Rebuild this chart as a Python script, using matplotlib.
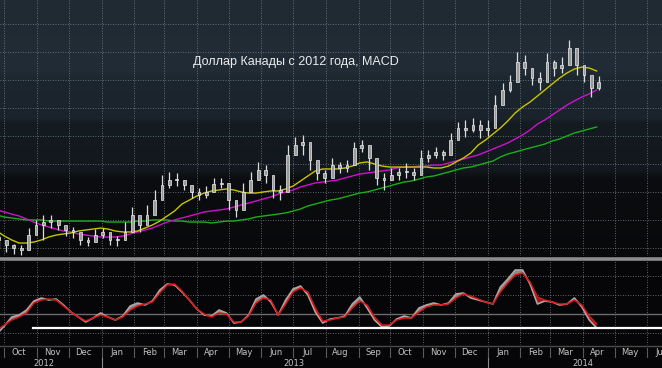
import numpy as np
import pandas as pd
import matplotlib
matplotlib.use("Agg")
import matplotlib.pyplot as plt
import matplotlib.dates as mdates
from matplotlib.patches import Rectangle

# weekly bars, USD/CAD
weeks = pd.date_range("2012-09-24", "2014-04-14", freq="W-MON")

close = [0.9857, 0.9821, 0.9800, 0.9785, 0.9893, 0.9964, 0.9985, 1.0000, 0.9964, 0.9928,
         0.9914, 0.9857, 0.9843, 0.9893, 0.9914, 0.9857, 0.9857, 0.9914, 1.0035, 0.9964,
         1.0035, 1.0143, 1.0250, 1.0286, 1.0286, 1.0250, 1.0200, 1.0178, 1.0200, 1.0257,
         1.0264, 1.0143, 1.0071, 1.0200, 1.0286, 1.0357, 1.0321, 1.0214, 1.0200, 1.0464,
         1.0536, 1.0557, 1.0429, 1.0336, 1.0300, 1.0393, 1.0371, 1.0393, 1.0514, 1.0536,
         1.0443, 1.0300, 1.0286, 1.0321, 1.0343, 1.0343, 1.0321, 1.0443, 1.0464, 1.0486,
         1.0464, 1.0571, 1.0657, 1.0643, 1.0679, 1.0643, 1.0657, 1.0821, 1.0928, 1.0986,
         1.1128, 1.1086, 1.1014, 1.0986, 1.1128, 1.1086, 1.1107, 1.1228, 1.1107, 1.1036,
         1.0943, 1.0986]
high = [0.9893, 0.9857, 0.9828, 0.9821, 0.9943, 1.0000, 1.0035, 1.0035, 1.0000, 0.9957,
        0.9950, 0.9893, 0.9878, 0.9936, 0.9943, 0.9893, 0.9886, 0.9985, 1.0093, 1.0014,
        1.0107, 1.0214, 1.0321, 1.0343, 1.0336, 1.0286, 1.0243, 1.0228, 1.0243, 1.0300,
        1.0300, 1.0200, 1.0121, 1.0264, 1.0343, 1.0414, 1.0393, 1.0264, 1.0250, 1.0536,
        1.0593, 1.0607, 1.0500, 1.0378, 1.0357, 1.0443, 1.0414, 1.0429, 1.0557, 1.0571,
        1.0500, 1.0357, 1.0336, 1.0371, 1.0371, 1.0407, 1.0371, 1.0500, 1.0500, 1.0521,
        1.0500, 1.0621, 1.0700, 1.0714, 1.0729, 1.0714, 1.0714, 1.0893, 1.0978, 1.1036,
        1.1200, 1.1178, 1.1086, 1.1057, 1.1193, 1.1143, 1.1164, 1.1285, 1.1200, 1.1086,
        1.1014, 1.1028]
low = [0.9800, 0.9771, 0.9757, 0.9750, 0.9821, 0.9907, 0.9857, 0.9943, 0.9928, 0.9885,
       0.9871, 0.9821, 0.9814, 0.9850, 0.9871, 0.9821, 0.9814, 0.9857, 0.9964, 0.9914,
       0.9985, 1.0057, 1.0178, 1.0228, 1.0243, 1.0214, 1.0157, 1.0143, 1.0157, 1.0214,
       1.0228, 1.0071, 1.0021, 1.0143, 1.0214, 1.0286, 1.0264, 1.0157, 1.0143, 1.0393,
       1.0464, 1.0464, 1.0357, 1.0286, 1.0264, 1.0343, 1.0336, 1.0343, 1.0464, 1.0486,
       1.0357, 1.0250, 1.0214, 1.0286, 1.0286, 1.0300, 1.0286, 1.0393, 1.0414, 1.0443,
       1.0429, 1.0500, 1.0586, 1.0593, 1.0629, 1.0586, 1.0600, 1.0679, 1.0857, 1.0914,
       1.1057, 1.1036, 1.0964, 1.0928, 1.1071, 1.1028, 1.1050, 1.1143, 1.1036, 1.0986,
       1.0878, 1.0928]
first_open = 0.9880

ma_50 = [0.9921, 0.9885, 0.9857, 0.9835, 0.9835, 0.9842, 0.9857, 0.9878, 0.9892, 0.9900,
         0.9907, 0.9921, 0.9928, 0.9935, 0.9942, 0.9935, 0.9921, 0.9914, 0.9914, 0.9921,
         0.9942, 0.9964, 0.9992, 1.0028, 1.0064, 1.0114, 1.0142, 1.0171, 1.0192, 1.0207,
         1.0214, 1.0221, 1.0214, 1.0200, 1.0192, 1.0192, 1.0200, 1.0207, 1.0207, 1.0221,
         1.0242, 1.0278, 1.0314, 1.0350, 1.0364, 1.0364, 1.0364, 1.0371, 1.0385, 1.0407,
         1.0414, 1.0400, 1.0385, 1.0378, 1.0378, 1.0378, 1.0378, 1.0378, 1.0378, 1.0371,
         1.0371, 1.0385, 1.0414, 1.0442, 1.0478, 1.0535, 1.0571, 1.0614, 1.0657, 1.0707,
         1.0764, 1.0807, 1.0842, 1.0885, 1.0928, 1.0971, 1.1014, 1.1050, 1.1078, 1.1092,
         1.1085, 1.1064]
ma_100 = [1.0071, 1.0057, 1.0042, 1.0028, 1.0007, 0.9985, 0.9964, 0.9950, 0.9935, 0.9921,
          0.9914, 0.9900, 0.9892, 0.9885, 0.9878, 0.9878, 0.9878, 0.9885, 0.9900, 0.9914,
          0.9928, 0.9942, 0.9964, 0.9985, 1.0000, 1.0014, 1.0028, 1.0042, 1.0057, 1.0064,
          1.0071, 1.0078, 1.0092, 1.0107, 1.0121, 1.0135, 1.0150, 1.0164, 1.0185, 1.0200,
          1.0214, 1.0235, 1.0250, 1.0264, 1.0271, 1.0278, 1.0285, 1.0300, 1.0314, 1.0328,
          1.0335, 1.0342, 1.0350, 1.0357, 1.0371, 1.0378, 1.0378, 1.0385, 1.0385, 1.0392,
          1.0392, 1.0407, 1.0421, 1.0435, 1.0450, 1.0464, 1.0485, 1.0507, 1.0528, 1.0550,
          1.0578, 1.0607, 1.0642, 1.0685, 1.0714, 1.0750, 1.0785, 1.0821, 1.0850, 1.0878,
          1.0900, 1.0928]
ma_200 = [1.0035, 1.0021, 1.0014, 1.0007, 1.0000, 1.0000, 1.0000, 0.9992, 0.9992, 0.9992,
          0.9992, 0.9992, 0.9992, 0.9992, 0.9992, 0.9985, 0.9985, 0.9985, 0.9985, 0.9992,
          0.9992, 1.0000, 1.0000, 1.0000, 0.9992, 0.9992, 0.9985, 0.9985, 0.9985, 0.9978,
          0.9985, 0.9992, 0.9992, 1.0000, 1.0007, 1.0021, 1.0028, 1.0035, 1.0042, 1.0050,
          1.0064, 1.0078, 1.0100, 1.0114, 1.0128, 1.0142, 1.0150, 1.0164, 1.0178, 1.0192,
          1.0200, 1.0214, 1.0228, 1.0242, 1.0257, 1.0271, 1.0278, 1.0292, 1.0307, 1.0314,
          1.0328, 1.0342, 1.0357, 1.0371, 1.0378, 1.0392, 1.0407, 1.0421, 1.0450, 1.0471,
          1.0485, 1.0500, 1.0514, 1.0528, 1.0542, 1.0564, 1.0578, 1.0600, 1.0621, 1.0635,
          1.0650, 1.0664]

# MACD panel, in 1e-4
macd_line = [-40, -24, -6, -2, 8, 26, 32, 28, 30, 18,
             4, -6, -16, -8, 2, -6, -12, -4, 16, 22,
             18, 26, 48, 60, 58, 44, 28, 10, -2, -4,
             8, 2, -18, -16, -2, 30, 38, 24, -2, 28,
             50, 56, 38, 4, -18, -10, -8, -4, 20, 34,
             12, -12, -26, -24, -10, -4, -8, 12, 18, 22,
             18, 22, 40, 42, 32, 28, 24, 20, 54, 70,
             88, 88, 60, 20, 26, 24, 18, 20, 32, 14,
             -12, -28]
signal_line = [-32, -22, -12, -6, 2, 22, 28, 30, 28, 16,
               4, -6, -14, -8, -2, -6, -12, -6, 8, 16,
               20, 24, 42, 58, 60, 46, 28, 10, 0, -6,
               2, 0, -16, -16, -4, 22, 32, 28, -2, 20,
               44, 52, 44, 12, -14, -12, -8, -6, 12, 26,
               18, -6, -22, -22, -12, -8, -8, 4, 14, 18,
               18, 20, 32, 40, 36, 30, 24, 20, 44, 62,
               78, 82, 64, 34, 28, 24, 20, 20, 28, 18,
               -4, -20]
macd_level = -28

month_names = ["Oct", "Nov", "Dec", "Jan", "Feb", "Mar", "Apr", "May", "Jun", "Jul", "Aug",
               "Sep", "Oct", "Nov", "Dec", "Jan", "Feb", "Mar", "Apr", "May", "Jun"]
year_names = ["2012", "2013", "2014"]
title = "Доллар Канады с 2012 года, MACD"

x_left = pd.Timestamp("2012-09-26 22:00")
x_right = pd.Timestamp("2014-06-14 19:00")
grid_kw = dict(color="#7a848c", lw=0.6, ls=(0, (1, 2)))

fig = plt.figure(figsize=(6.62, 3.68), dpi=100, facecolor="#060608")
ax = fig.add_axes([0, 1 - 256 / 368, 1, 256 / 368])
ax2 = fig.add_axes([0, 1 - 345 / 368, 1, 84 / 368])

# background bands of the price panel
stops_y = [0, 70, 80, 118, 122, 170, 178, 256]
stops_c = ["#1f2a33", "#212c36", "#1c262f", "#1a232b", "#141b21", "#12181d", "#0b0d10", "#08090b"]
rgb = np.array([matplotlib.colors.to_rgb(c) for c in stops_c])
rows = np.arange(256)
bg = np.stack([np.interp(rows, stops_y, rgb[:, i]) for i in range(3)], axis=1)[:, None, :]
ax.imshow(bg, aspect="auto", extent=[0, 1, 0, 1], transform=ax.transAxes, zorder=0)

ax.set_xlim(x_left, x_right)
ax.set_ylim(1.1571 - 256 / 1400, 1.1571)
ax2.set_xlim(x_left, x_right)
ax2.set_ylim(-62, 106)
ax2.set_facecolor("#060608")

month_starts = pd.date_range("2012-10-01", "2014-06-01", freq="MS")
for a in (ax, ax2):
    for m in month_starts:
        a.axvline(m, zorder=1, **grid_kw)
    a.set_xticks([])
    a.set_yticks([])
    for s in a.spines.values():
        s.set_visible(False)
for lvl in np.arange(0.98, 1.15, 0.02):
    ax.axhline(lvl, zorder=1, **grid_kw)
for lvl in (76, 38, -38):
    ax2.axhline(lvl, zorder=1, **grid_kw)
ax2.axhline(0, color="#6c6c6c", lw=1, zorder=2)

# candles
xs = mdates.date2num(weeks) + 2
opens = [first_open] + close[:-1]
for x, o, c, h, l in zip(xs, opens, close, high, low):
    ax.vlines(x, l, h, color="#dcdcdc", lw=0.9, zorder=4)
    ax.add_patch(Rectangle((x - 1.3, min(o, c)), 2.6, max(abs(c - o), 0.0004),
                           facecolor="#9a9a9a", edgecolor="#eeeeee", lw=0.5, zorder=5))

ax.plot(weeks, ma_200, color="#18b018", lw=1, zorder=3)
ax.plot(weeks, ma_100, color="#d010d0", lw=1, zorder=3)
ax.plot(weeks, ma_50, color="#c8c400", lw=1, zorder=3)

ax.text(0.447, 0.758, title, transform=ax.transAxes, ha="center", va="center",
        color="#ececec", fontsize=9, family="Liberation Sans")

# MACD
m = np.array(macd_line, float)
s = np.array(signal_line, float)
ax2.fill_between(weeks, m, s, where=m >= s, interpolate=True, color="#8a8a8a", lw=0, zorder=3)
ax2.fill_between(weeks, m, s, where=m < s, interpolate=True, color="#9a1a1a", lw=0, zorder=3)
ax2.plot(weeks, m, color="#a8a8a8", lw=1.2, zorder=4)
ax2.plot(weeks, s, color="#e01414", lw=1.1, zorder=5)
ax2.plot([pd.Timestamp("2012-10-28"), x_right], [macd_level, macd_level], color="white", lw=1.6, zorder=6)

# separator and bottom axis
fig.add_artist(plt.Line2D([0, 1], [1 - 258.5 / 368] * 2, transform=fig.transFigure,
                          color="#8c8c8c", lw=2.6))
fig.add_artist(plt.Line2D([0, 1], [1 - 345.5 / 368] * 2, transform=fig.transFigure,
                          color="#4a4a4a", lw=1))
tr = ax2.get_xaxis_transform()
for mstart in month_starts:
    ax2.plot([mstart, mstart], [-0.03, -0.14], transform=tr, color="#5a5a5a", lw=0.8, clip_on=False)
for ystart in pd.to_datetime(["2013-01-01", "2014-01-01"]):
    ax2.plot([ystart, ystart], [-0.16, -0.28], transform=tr, color="#8a8a8a", lw=0.8, clip_on=False)
for mstart, name in zip(month_starts, month_names):
    ax2.text(mstart + pd.Timedelta(days=14), -0.095, name, transform=tr, ha="center", va="center",
             color="#c4c4c4", fontsize=6, clip_on=False)
for d, name in zip(pd.to_datetime(["2012-11-07", "2013-07-02", "2014-04-01"]), year_names):
    ax2.text(d, -0.215, name, transform=tr, ha="center", va="center",
             color="#c4c4c4", fontsize=6, clip_on=False)

fig.savefig("out.png", dpi=100, facecolor=fig.get_facecolor())
